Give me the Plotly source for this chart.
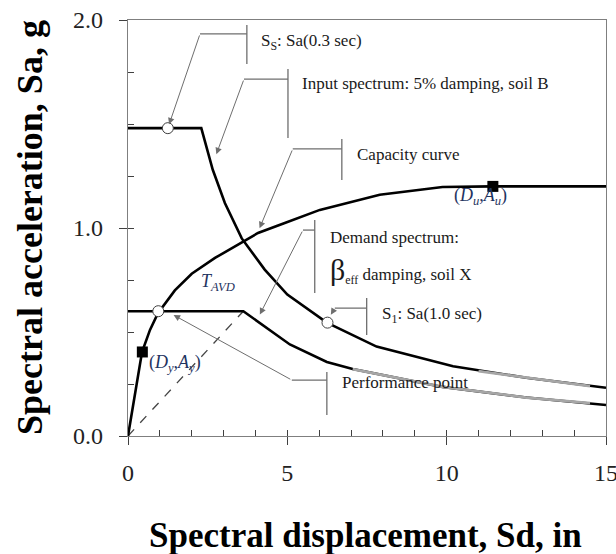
import plotly.graph_objects as go

# ---- data ----
input_sd = [0, 2.3, 2.66, 3.04, 3.57, 4.29, 5.0, 6.24, 7.8, 10.2, 12.5, 15]
input_sa = [1.48, 1.48, 1.28, 1.12, 0.95, 0.80, 0.68, 0.545, 0.43, 0.335, 0.28, 0.232]
input_gray_sd = [11.0, 12.5, 14.5]
input_gray_sa = [0.312, 0.28, 0.240]

demand_sd = [0, 3.62, 5.08, 6.24, 7.05, 9.87, 12.5, 15]
demand_sa = [0.6, 0.6, 0.44, 0.356, 0.322, 0.236, 0.185, 0.149]
demand_gray_sd = [7.05, 9.87, 12.5, 14.5]
demand_gray_sa = [0.322, 0.236, 0.185, 0.158]

capacity_sd = [0, 0.44, 0.69, 0.94, 1.47, 2.0, 2.73, 3.57, 4.08, 4.92, 6.02, 7.9, 9.87, 11.44, 15]
capacity_sa = [0, 0.404, 0.51, 0.59, 0.70, 0.78, 0.856, 0.93, 0.976, 1.024, 1.087, 1.16, 1.197, 1.2, 1.2]

tavd_sd = [0, 3.62]
tavd_sa = [0, 0.6]

circle_sd = [1.25, 6.26, 0.95]
circle_sa = [1.48, 0.545, 0.6]

square_sd = [0.45, 11.45]
square_sa = [0.404, 1.2]

x_ticks = [0, 5, 10, 15]
y_ticks = [0.0, 1.0, 2.0]
y_tick_text = ["0.0", "1.0", "2.0"]

SERIF = "Liberation Serif"
GRAY = "#6e6e6e"
NAVY = "#1f3461"

fig = go.Figure()
line = dict(color="black", width=2.6)
fig.add_trace(go.Scatter(x=tavd_sd, y=tavd_sa, mode="lines",
                         line=dict(color="#444444", width=1.3, dash="dash")))
fig.add_trace(go.Scatter(x=input_sd, y=input_sa, mode="lines", line=line))
fig.add_trace(go.Scatter(x=input_gray_sd, y=input_gray_sa, mode="lines",
                         line=dict(color="#a6a6a6", width=2.8)))
fig.add_trace(go.Scatter(x=demand_sd, y=demand_sa, mode="lines", line=line))
fig.add_trace(go.Scatter(x=demand_gray_sd, y=demand_gray_sa, mode="lines",
                         line=dict(color="#a6a6a6", width=2.8)))
fig.add_trace(go.Scatter(x=capacity_sd, y=capacity_sa, mode="lines", line=line))
fig.add_trace(go.Scatter(x=square_sd, y=square_sa, mode="markers",
                         marker=dict(symbol="square", size=11, color="black")))
fig.add_trace(go.Scatter(x=circle_sd, y=circle_sa, mode="markers",
                         marker=dict(symbol="circle", size=11, color="white",
                                     line=dict(color="#404040", width=1))))

# ---- callouts: (arrow head, elbow, bar x, bar y-range, text pos, text) ----
callouts = [
    ((1.25, 1.48), (2.26, 1.933), 3.73, (1.976, 1.788), (4.11, 1.894), "S<sub>S</sub>: Sa(0.3 sec)"),
    ((2.73, 1.337), (3.64, 1.716), 5.02, (1.764, 1.433), (5.39, 1.697), "Input spectrum: 5% damping, soil B"),
    ((4.08, 0.981), (5.17, 1.38), 6.71, (1.428, 1.231), (7.12, 1.351), "Capacity curve"),
    ((4.08, 0.567), (5.49, 0.990), 5.86, (1.038, 0.6875), (6.27, 0.952), "Demand spectrum:"),
    ((6.30, 0.567), (6.49, 0.615), 7.49, (0.663, 0.486), (7.90, 0.582), "S<sub>1</sub>: Sa(1.0 sec)"),
    ((1.32, 0.591), (5.14, 0.269), 6.24, (0.308, 0.101), (6.65, 0.255), "Performance point"),
]
shapes = []
annotations = []
for head, elbow, barx, bary, tpos, text in callouts:
    annotations.append(dict(x=head[0], y=head[1], ax=elbow[0], ay=elbow[1],
                            xref="x", yref="y", axref="x", ayref="y", text="",
                            showarrow=True, arrowhead=2, arrowsize=1.3, arrowwidth=1,
                            arrowcolor=GRAY, standoff=4))
    shapes.append(dict(type="line", xref="x", yref="y", x0=elbow[0], y0=elbow[1],
                       x1=barx, y1=elbow[1], line=dict(color=GRAY, width=1.3)))
    shapes.append(dict(type="line", xref="x", yref="y", x0=barx, y0=bary[0],
                       x1=barx, y1=bary[1], line=dict(color=GRAY, width=1.3)))
    annotations.append(dict(x=tpos[0], y=tpos[1], xref="x", yref="y", text=text,
                            showarrow=False, xanchor="left", yanchor="middle",
                            font=dict(family=SERIF, size=17, color="#1a1a1a")))

annotations.append(dict(x=6.27, y=0.80, xref="x", yref="y",
                        text="<span style='font-size:30px'>β</span><sub>eff</sub> damping, soil X",
                        showarrow=False, xanchor="left", yanchor="middle",
                        font=dict(family=SERIF, size=17, color="#1a1a1a")))
annotations.append(dict(x=2.82, y=0.74, xref="x", yref="y",
                        text="<i>T</i><sub><i>AVD</i></sub>", showarrow=False,
                        font=dict(family=SERIF, size=18, color=NAVY)))
annotations.append(dict(x=1.47, y=0.35, xref="x", yref="y",
                        text="(<i>D</i><sub><i>y</i></sub>,<i>A</i><sub><i>y</i></sub>)", showarrow=False,
                        font=dict(family=SERIF, size=18, color=NAVY)))
annotations.append(dict(x=11.07, y=1.15, xref="x", yref="y",
                        text="(<i>D</i><sub><i>u</i></sub>,<i>A</i><sub><i>u</i></sub>)", showarrow=False,
                        font=dict(family=SERIF, size=18, color=NAVY)))
# axis titles
annotations.append(dict(x=0.496, y=-0.238, xref="paper", yref="paper",
                        xanchor="center", yanchor="middle",
                        text="<b>Spectral displacement, Sd, in</b>", showarrow=False,
                        font=dict(family=SERIF, size=35, color="black")))
annotations.append(dict(x=-0.205, y=0.5, xref="paper", yref="paper", textangle=-90,
                        xanchor="center", yanchor="middle",
                        text="<b>Spectral acceleration, Sa, g</b>", showarrow=False,
                        font=dict(family=SERIF, size=36, color="black")))

axis_common = dict(showgrid=False, zeroline=False, linecolor="#7f7f7f", linewidth=1.3,
                   tickcolor="#404040", tickwidth=1, automargin=False, ticklabeloverflow="allow")
fig.update_layout(
    width=616, height=554,
    margin=dict(l=128, r=10, t=20, b=118, autoexpand=False),
    paper_bgcolor="white", plot_bgcolor="white",
    showlegend=False,
    xaxis=dict(range=[0, 15], tickvals=x_ticks, ticks="outside", ticklen=8,
               mirror=True, showline=True, ticklabelstandoff=7,
               tickfont=dict(family=SERIF, size=24, color="#222222"), **axis_common),
    yaxis=dict(range=[0, 2.0], tickvals=y_ticks, ticktext=y_tick_text, ticks="outside", ticklen=8,
               mirror=True, showline=True, ticklabelstandoff=11,
               tickfont=dict(family=SERIF, size=24, color="#222222"), **axis_common),
    xaxis2=dict(range=[0, 15], overlaying="x", side="bottom", dtick=1, tick0=0,
                ticks="inside", ticklen=6, showticklabels=False, showline=False,
                showgrid=False, zeroline=False, tickcolor="#404040", anchor="y", automargin=False),
    yaxis2=dict(range=[0, 2.0], overlaying="y", side="left", dtick=0.25, tick0=0,
                ticks="inside", ticklen=6, showticklabels=False, showline=False,
                showgrid=False, zeroline=False, tickcolor="#404040", anchor="x", automargin=False),
    shapes=shapes,
    annotations=annotations,
)
# invisible trace to activate the tick-only overlay axes
fig.add_trace(go.Scatter(x=[0], y=[0], xaxis="x2", yaxis="y2", mode="markers",
                         marker=dict(opacity=0), hoverinfo="skip"))
fig.write_html("out.html", config={"displayModeBar": False},
               post_script="document.body.style.margin='0';document.body.style.overflow='hidden';")
